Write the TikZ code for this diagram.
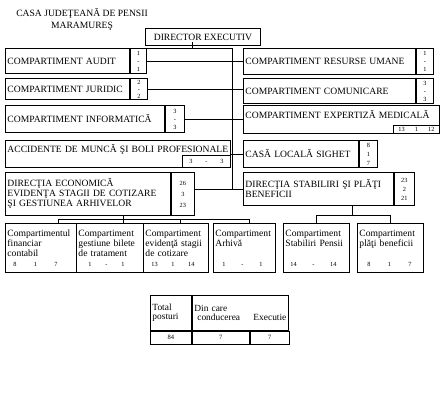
\documentclass[tikz,border=0pt]{standalone}
\usepackage{fontspec}
\setmainfont{Liberation Serif}

\newcommand\unitfont{\fontsize{9.6}{10}\selectfont}
\newcommand\nrfont{\fontsize{6.3}{8}\selectfont}
\newcommand\tripla[4]{\makebox[#1]{#2\hfill#3\hfill#4}}

\tikzset{
  unit/.style={draw, anchor=north west, inner xsep=2pt, inner ysep=0pt, align=left, font=\unitfont},
  nrcol/.style={draw, anchor=north west, inner sep=0pt, align=center, font=\nrfont},
  nrcell/.style={draw, anchor=south east, inner sep=0pt, font=\nrfont},
  tab/.style={draw, anchor=north west, inner xsep=2pt, inner ysep=0pt, align=left, font=\fontsize{9.4}{9}\selectfont},
}

\begin{document}
\begin{tikzpicture}[x=1pt, y=-1pt, line width=0.9pt]
  \useasboundingbox[fill=white] (0,0) rectangle (445,410);

  \node[align=center, font=\fontsize{9.6}{12}\selectfont] (titlu) at (82,19) {CASA JUDEŢEANĂ DE PENSII\\MARAMUREŞ};
  \node[unit, minimum width=115pt, minimum height=17pt] (director) at (145,28) {DIRECTOR EXECUTIV};

  % stanga
  \node[unit, text width=120pt, minimum height=25pt] (audit) at (5,48) {COMPARTIMENT AUDIT};
  \node[nrcol, minimum width=16pt, minimum height=25pt] (auditnr) at (audit.north east) {1\\-\\1};
  \node[unit, text width=120pt, minimum height=21pt] (juridic) at (5,78) {COMPARTIMENT JURIDIC};
  \node[nrcol, minimum width=17pt, minimum height=21pt, font=\fontsize{6.3}{7}\selectfont] (juridicnr) at (juridic.north east) {2\\-\\2};
  \node[unit, text width=155pt, minimum height=27pt] (informatica) at (5,105) {COMPARTIMENT INFORMATICĂ};
  \node[nrcol, minimum width=19pt, minimum height=27pt] (informaticanr) at (informatica.north east) {3\\-\\3};
  \node[unit, text width=221pt, minimum height=27pt, text depth=12pt] (accidente) at (5,140) {ACCIDENTE DE MUNCĂ ŞI BOLI PROFESIONALE};
  \node[nrcell, minimum width=48pt, minimum height=12pt] (accidentenr) at (accidente.south east) {\tripla{34pt}{3}{-}{3}\hspace{12pt}};
  \node[unit, text width=161pt, minimum height=43pt] (economica) at (5,172) {DIRECŢIA ECONOMICĂ\\EVIDENŢA STAGII DE COTIZARE\\ŞI GESTIUNEA ARHIVELOR};
  \node[nrcol, minimum width=23pt, minimum height=43pt, font=\fontsize{6.3}{11}\selectfont] (economicanr) at (economica.north east) {26\\3\\23};

  % dreapta
  \node[unit, text width=168pt, minimum height=26pt] (resurse) at (243,48) {COMPARTIMENT RESURSE UMANE};
  \node[nrcol, minimum width=17pt, minimum height=26pt] (resursenr) at (resurse.north east) {1\\-\\1};
  \node[unit, text width=168pt, minimum height=25pt] (comunicare) at (243,78) {COMPARTIMENT COMUNICARE};
  \node[nrcol, minimum width=17pt, minimum height=25pt] (comunicarenr) at (comunicare.north east) {3\\-\\3};
  \node[unit, text width=192pt, minimum height=28pt, text depth=10pt] (expertiza) at (243,105) {COMPARTIMENT EXPERTIZĂ MEDICALĂ};
  \node[nrcell, minimum width=46pt, minimum height=8pt] (expertizanr) at (expertiza.south east) {\tripla{36pt}{13}{1}{12}};
  \node[unit, text width=111pt, minimum height=27pt] (sighet) at (243,140) {CASĂ LOCALĂ SIGHET};
  \node[nrcol, minimum width=18pt, minimum height=27pt, font=\fontsize{6.3}{9}\selectfont] (sighetnr) at (sighet.north east) {8\\1\\7};
  \node[unit, text width=146pt, minimum height=33pt] (stabiliri) at (243,172) {DIRECŢIA STABILIRI ŞI PLĂŢI\\BENEFICII};
  \node[nrcol, minimum width=20pt, minimum height=33pt, font=\fontsize{6.3}{9}\selectfont] (stabilirinr) at (stabiliri.north east) {23\\2\\21};

  % compartimente
  \node[unit, text width=67pt, minimum height=49pt] (financiar) at (5,223) {Compartimentul\\financiar\\contabil\\{\nrfont\hspace*{6pt}\tripla{44pt}{8}{1}{7}}};
  \node[unit, text width=63pt, minimum height=49pt] (bilete) at (76,223) {Compartiment\\gestiune bilete\\de tratament\\{\nrfont\hspace*{10pt}\tripla{36pt}{1}{-}{1}}};
  \node[unit, text width=61pt, minimum height=49pt] (evidenta) at (143,223) {Compartiment\\evidenţă stagii\\de cotizare\\{\nrfont\hspace*{6pt}\tripla{43pt}{13}{1}{14}}};
  \node[unit, text width=58pt, minimum height=49pt] (arhiva) at (213,223) {Compartiment\\Arhivă\\\mbox{}\\{\nrfont\hspace*{7pt}\tripla{40pt}{1}{-}{1}}};
  \node[unit, text width=62pt, minimum height=49pt] (pensii) at (283,223) {Compartiment\\Stabiliri Pensii\\\mbox{}\\{\nrfont\hspace*{5pt}\tripla{46pt}{14}{-}{14}}};
  \node[unit, text width=62pt, minimum height=49pt] (plati) at (357,223) {Compartiment\\plăţi beneficii\\\mbox{}\\{\nrfont\hspace*{8pt}\tripla{44pt}{8}{1}{7}}};

  % legaturi
  \coordinate (trunk) at (232,48);
  \draw ([shift={(-11pt,4pt)}]director.south) -- ([xshift=-11pt]director.south |- trunk);
  \draw (auditnr.north east) -- (trunk) -- (trunk |- stabiliri.west);
  \draw (auditnr.east) -- (auditnr.east -| resurse.west);
  \draw (juridicnr.east) -- (juridicnr.east -| comunicare.west);
  \draw (informaticanr.east) -- (informaticanr.east -| expertiza.west);
  \draw (accidente.east) -- (accidente.east -| sighet.west);
  \draw (economicanr.east |- stabiliri.west) -- (stabiliri.west);

  \draw ([xshift=13pt]bilete.north |- economica.south) -- ([xshift=13pt]bilete.north);
  \draw ([xshift=17pt]financiar.north) -- ++(0,4pt) -| ([xshift=5pt]arhiva.north);
  \draw ([xshift=4pt]evidenta.north) -- ++(0,4pt);
  \draw ([xshift=34pt]stabiliri.south) -- ++(0,-10pt);
  \draw (pensii.north) -- ++(0,8pt) -| (plati.north);

  % total
  \node[tab, text width=37pt, minimum height=35pt] (total) at (150,295) {Total\\posturi};
  \node[tab, text width=92pt, minimum height=35pt] (dincare) at (total.north east) {Din care\\\hspace*{3pt}conducerea\hfill Executie};
  \node[nrcol, minimum width=41pt, minimum height=13pt, font=\fontsize{6.5}{7}\selectfont] (totalnr) at (total.south west) {84};
  \node[nrcol, minimum width=57pt, minimum height=13pt, font=\fontsize{6.5}{7}\selectfont] (conducerenr) at (totalnr.north east) {7};
  \node[nrcol, minimum width=39pt, minimum height=13pt, font=\fontsize{6.5}{7}\selectfont] (executienr) at (conducerenr.north east) {7};
\end{tikzpicture}
\end{document}
